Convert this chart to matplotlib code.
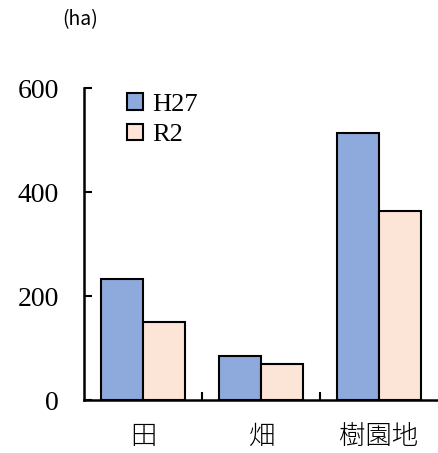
import matplotlib.pyplot as plt
import numpy as np

categories = ['田', '畑', '樹園地']
h27 = [233, 85, 513]
r2 = [150, 69, 363]
series_names = ['H27', 'R2']

fig = plt.figure(figsize=(4.38, 4.53), dpi=100)
ax = fig.add_axes([84/438, 53/453, 354/438, 312/453])

x = np.arange(len(categories))
w = 0.36
ax.bar(x - w/2, h27, w, color='#8EA9DB', edgecolor='black', linewidth=1.5, label=series_names[0])
ax.bar(x + w/2, r2, w, color='#FCE4D6', edgecolor='black', linewidth=1.5, label=series_names[1])

ax.set_xlim(-0.5, 2.5)
ax.set_ylim(0, 600)
ax.set_yticks([0, 200, 400, 600])
ax.tick_params(axis='y', direction='in', length=6, width=1.5, pad=18, labelsize=20)
for t in ax.get_yticklabels():
    t.set_fontfamily('Liberation Serif')

ax.set_xticks(x)
ax.set_xticklabels(categories, fontfamily='Noto Sans CJK JP', fontsize=19, fontweight='light')
ax.tick_params(axis='x', length=0, pad=16)
ax.set_xticks([0.5, 1.5], minor=True)
ax.tick_params(axis='x', which='minor', direction='in', length=6, width=1.5)

for s in ['top', 'right']:
    ax.spines[s].set_visible(False)
for s in ['left', 'bottom']:
    ax.spines[s].set_linewidth(1.8)

leg = ax.legend(loc='upper left', bbox_to_anchor=(0.055, 1.06), frameon=False,
                prop={'family': 'Liberation Serif', 'size': 19},
                handlelength=0.6, handleheight=0.6, handletextpad=0.35, labelspacing=0.3)

fig.text(62/438, 1 - 20/453, '(ha)', fontfamily='Noto Sans CJK JP', fontsize=14, va='center', ha='left')

fig.savefig('out.png', dpi=100)
